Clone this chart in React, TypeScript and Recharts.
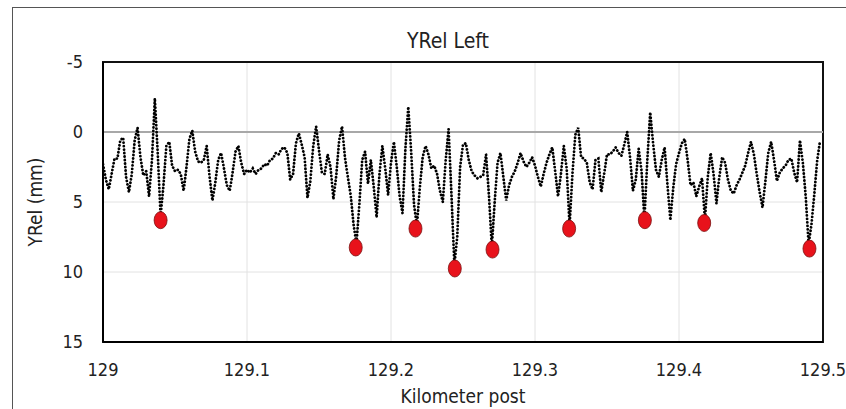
import {
  ComposedChart,
  Line,
  Scatter,
  XAxis,
  YAxis,
  CartesianGrid,
  ReferenceLine,
  ReferenceArea,
  Label,
} from "recharts";

// YRel sampled every 2 m starting at km 129.000
const startKm = 129;
const stepKm = 0.002;
const yRel = [
  2.3, 3.4, 4.1, 3.0, 1.9, 1.9, 0.6, 0.4, 3.2, 4.3,
  3.0, 0.6, -0.3, 1.8, 3.1, 2.8, 4.6, 2.0, -2.4, 1.5,
  6.0, 3.8, 1.0, 0.7, 2.4, 2.8, 2.7, 3.0, 4.2, 2.5,
  0.5, -0.1, 1.4, 2.1, 2.2, 2.0, 1.0, 3.2, 4.9, 3.6,
  2.0, 1.5, 2.6, 3.8, 4.2, 2.9, 1.4, 1.0, 2.2, 3.0,
  2.7, 2.9, 2.6, 3.0, 2.7, 2.6, 2.3, 2.4, 2.0, 1.9,
  1.5, 1.6, 1.2, 1.1, 1.5, 3.4, 3.0, 0.8, 0.1, 0.9,
  1.8, 4.7, 3.5, 1.0, -0.4, 1.3, 2.9, 3.0, 1.6, 2.5,
  4.8, 3.1, 0.6, -0.4, 1.8, 3.2, 4.5, 6.6, 8.0, 5.2,
  2.0, 1.4, 3.7, 2.0, 3.9, 6.1, 3.0, 1.0, 2.6, 4.5,
  2.2, 0.7, 2.5, 4.6, 5.8, 1.2, -1.8, 1.4, 5.2, 6.7,
  4.0, 1.8, 1.0, 1.6, 2.6, 2.4, 3.0, 4.2, 5.0, 2.0,
  -0.2, 4.5, 9.5, 7.5, 2.5, 0.9, 0.8, 2.0, 2.8, 3.1,
  3.3, 3.2, 3.1, 1.6, 4.5, 8.2, 5.0, 2.2, 1.5, 3.2,
  4.9, 3.8, 3.2, 2.8, 2.2, 1.5, 2.1, 2.5, 2.2, 1.8,
  2.4, 3.2, 3.9, 3.0, 2.2, 1.6, 1.1, 2.8, 4.6, 3.0,
  1.0, 2.6, 6.7, 3.0, 0.2, -0.3, 1.8, 1.9, 2.2, 3.6,
  4.1, 2.0, 1.9, 4.3, 3.0, 1.6, 1.6, 1.4, 1.1, 1.5,
  1.7, 0.9, 0.0, 1.8, 4.2, 3.4, 1.2, 2.8, 6.2, 2.0,
  -1.4, 0.8, 2.7, 3.2, 2.0, 1.1, 3.8, 6.3, 4.0, 2.3,
  1.5, 0.8, 0.5, 2.0, 3.8, 3.6, 4.6, 3.9, 3.3, 6.3,
  3.2, 1.5, 3.0, 5.1, 3.2, 1.8, 2.2, 3.4, 4.2, 4.4,
  3.8, 3.4, 2.9, 2.4, 1.5, 0.7, 1.6, 3.0, 4.3, 5.4,
  3.5, 1.5, 0.7, 2.0, 3.5, 2.9, 2.6, 2.4, 2.0, 1.9,
  2.9, 3.6, 0.6, 2.2, 4.6, 8.0, 6.6, 4.4, 2.0, 0.6,
];

// red markers at the local extremes
const peakKm = [129.04, 129.1755, 129.217, 129.2443, 129.2705, 129.3237, 129.3763, 129.4175, 129.4906];
const peakYRel = [6.3, 8.25, 6.9, 9.75, 8.4, 6.9, 6.3, 6.5, 8.33];

const xTicks = [129, 129.1, 129.2, 129.3, 129.4, 129.5];
const yTicks = [-5, 0, 5, 10, 15];

const lineData = yRel.map((v, i) => ({ km: startKm + i * stepKm, v }));
const peakData = peakKm.map((km, i) => ({ km, v: peakYRel[i] }));

const font = "'Liberation Sans Narrow', 'DejaVu Sans Condensed', Lato, sans-serif";

const RedDot = (props: any) => {
  const { cx, cy } = props;
  if (cx == null || cy == null) return null;
  return <ellipse cx={cx} cy={cy} rx={6.5} ry={8.5} fill="#e8121b" stroke="#7a1010" strokeWidth={0.8} />;
};

const App = () => {
  return (
    <div style={{ position: "fixed", left: 0, top: 0, width: 846, height: 409, background: "#fff", overflow: "hidden" }}>
      <div
        style={{
          position: "absolute",
          left: 12,
          top: 7,
          width: 900,
          height: 500,
          borderLeft: "1.5px solid #555",
          borderTop: "1.5px solid #555",
        }}
      />
      <div
        style={{
          position: "absolute",
          left: 0,
          top: 29,
          width: 896,
          textAlign: "center",
          fontFamily: font,
          fontSize: 21,
          lineHeight: "24px",
          color: "#222",
        }}
      >
        YRel Left
      </div>
      <div style={{ position: "absolute", left: 0, top: 0 }}>
        <ComposedChart width={846} height={409} margin={{ top: 62, right: 23, bottom: 0, left: 0 }}>
          <CartesianGrid stroke="#e2e2e2" strokeWidth={1} />
          <XAxis
            type="number"
            dataKey="km"
            domain={[129, 129.5]}
            ticks={xTicks}
            allowDataOverflow
            height={67}
            tickLine={false}
            tickSize={0}
            tickMargin={21}
            axisLine={{ stroke: "#000", strokeWidth: 2 }}
            tick={{ fill: "#222", fontSize: 18, fontFamily: font }}
          >
            <Label value="Kilometer post" position="insideBottom" offset={6} fill="#222" fontSize={19} fontFamily={font} />
          </XAxis>
          <YAxis
            type="number"
            dataKey="v"
            reversed
            domain={[-5, 15]}
            ticks={yTicks}
            allowDataOverflow
            width={103}
            tickLine={false}
            tickSize={0}
            tickMargin={20}
            axisLine={{ stroke: "#000", strokeWidth: 2 }}
            tick={{ fill: "#222", fontSize: 18, fontFamily: font }}
          >
            <Label
              value="YRel (mm)"
              angle={-90}
              position="insideLeft"
              offset={35}
              fill="#222"
              fontSize={19}
              fontFamily={font}
              style={{ textAnchor: "middle" }}
            />
          </YAxis>
          <ReferenceLine y={0} stroke="#a8a8a8" strokeWidth={2} />
          <ReferenceArea x1={129} x2={129.5} y1={-5} y2={15} fill="none" stroke="#111" strokeWidth={2} />
          <Line
            data={lineData}
            dataKey="v"
            type="linear"
            stroke="#000"
            strokeWidth={2.8}
            strokeDasharray="0.1 3.4"
            strokeLinecap="round"
            dot={false}
            activeDot={false}
            isAnimationActive={false}
          />
          <Scatter data={peakData} dataKey="v" shape={RedDot} isAnimationActive={false} />
        </ComposedChart>
      </div>
    </div>
  );
};

export default App;
